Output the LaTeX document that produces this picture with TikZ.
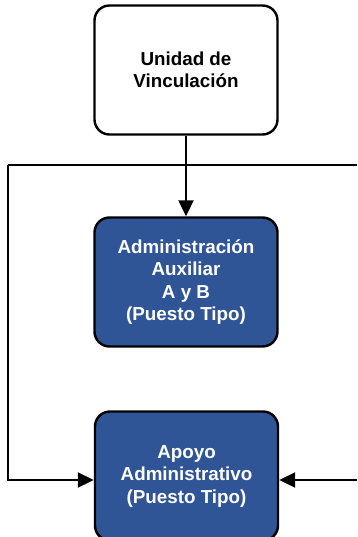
\documentclass[tikz,border=0pt]{standalone}
\usepackage{fontspec}
\setmainfont{Liberation Sans}
\usetikzlibrary{arrows.meta}
\definecolor{azulpuesto}{RGB}{47,85,151}
\begin{document}
\begin{tikzpicture}[x=1pt,y=1pt,
    caja/.style={draw, line width=2.4pt, rounded corners=15pt, align=center,
      minimum width=183pt, minimum height=129pt,
      font=\fontsize{18.8}{22.5}\selectfont\bfseries},
    puesto/.style={caja, fill=azulpuesto, text=white},
    flecha/.style={-{Triangle[length=16pt,width=15pt]}, line width=2pt}]
        \useasboundingbox (0,0) rectangle (357,-537);

        \node[caja, fill=white] (uv) at (186,-70) {Unidad de\\Vinculación};
        \node[puesto] (adm) at (186,-282) {Administración\\Auxiliar\\A y B\\(Puesto Tipo)};
        \node[puesto] (apoyo) at (186.5,-476) {Apoyo\\Administrativo\\(Puesto Tipo)};

        \coordinate (izqA) at (8,-165);
        \coordinate (izqB) at (8,-480);
        \coordinate (derA) at (357,-165);
        \coordinate (derB) at (357,-480);

        \draw[flecha] (uv) -- (adm);
        \draw[line width=2pt] (izqA) -- (derA);
        \draw[flecha] (izqA) -- (izqB) -- (izqB -| apoyo.west);
        \draw[flecha] (derB) -- (derB -| apoyo.east);
    \end{tikzpicture}
\end{document}
